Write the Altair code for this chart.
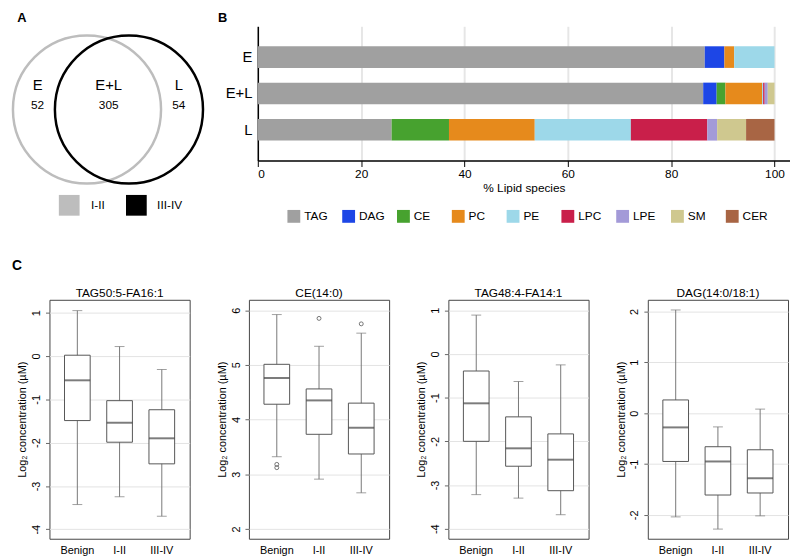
import altair as alt
import pandas as pd

FONT = "Liberation Sans"

# ---------------- Panel A : Venn diagram ----------------
venn_sets = ["I-II", "III-IV"]
venn_set_colors = ["#bdbdbd", "#000000"]
venn_regions = ["E", "E+L", "L"]
venn_counts = [52, 305, 54]
panel_letters = ["A", "B", "C"]

# ---------------- Panel B : lipid class composition ----------------
stage_groups = ["E", "E+L", "L"]
lipid_classes = ["TAG", "DAG", "CE", "PC", "PE", "LPC", "LPE", "SM", "CER"]
lipid_colors = ["#a0a0a0", "#1d46e6", "#47a22f", "#e68a1c", "#9dd8e9",
                "#c91f4a", "#a39ad8", "#cfc88f", "#a86544"]
pct_E = [86.5, 3.8, 0.0, 1.9, 7.8, 0.0, 0.0, 0.0, 0.0]
pct_EL = [86.2, 2.6, 1.7, 7.1, 0.2, 0.3, 0.6, 1.3, 0.0]
pct_L = [25.9, 0.0, 11.1, 16.6, 18.6, 14.8, 1.9, 5.6, 5.5]

# ---------------- Panel C : box plots ----------------
box_groups = ["Benign", "I-II", "III-IV"]
panel_titles = ["TAG50:5-FA16:1", "CE(14:0)", "TAG48:4-FA14:1", "DAG(14:0/18:1)"]

p1_low = [-3.43, -3.25, -3.70]
p1_q1 = [-1.49, -1.99, -2.49]
p1_med = [-0.56, -1.54, -1.90]
p1_q3 = [0.02, -1.03, -1.24]
p1_high = [1.05, 0.22, -0.31]

p2_low = [3.32, 2.91, 2.66]
p2_q1 = [4.28, 3.73, 3.37]
p2_med = [4.76, 4.35, 3.85]
p2_q3 = [5.01, 4.56, 4.30]
p2_high = [5.92, 5.34, 5.58]
p2_out_group = ["Benign", "Benign", "I-II", "III-IV"]
p2_out_value = [3.18, 3.12, 5.85, 5.75]

p3_low = [-3.22, -3.30, -3.68]
p3_q1 = [-2.00, -2.57, -3.13]
p3_med = [-1.13, -2.16, -2.42]
p3_q3 = [-0.39, -1.44, -1.83]
p3_high = [0.89, -0.63, -0.25]

p4_low = [-2.04, -2.28, -2.02]
p4_q1 = [-0.95, -1.61, -1.57]
p4_med = [-0.28, -0.95, -1.28]
p4_q3 = [0.26, -0.66, -0.72]
p4_high = [2.03, -0.27, 0.08]

y_domains = [[-4.22, 1.30], [1.82, 6.19], [-4.23, 1.24], [-2.47, 2.23]]
y_ticks = [[-4, -3, -2, -1, 0, 1], [2, 3, 4, 5, 6], [-4, -3, -2, -1, 0, 1], [-2, -1, 0, 1, 2]]

# ================= Panel A (layout in figure pixel units) =================
venn_cx = [84, 126.5]
venn_cy = [105, 105]
region_x = [34, 106, 177]
letter_x = [13.3, 216.7, 8]
letter_y = [12, 12, 264]

vx = alt.Scale(domain=[46, 246], nice=False, zero=False)
vy = alt.Scale(domain=[156.7, 20.7], nice=False, zero=False)
set_scale = alt.Scale(domain=venn_sets, range=venn_set_colors)

circ_df = pd.DataFrame({"set": venn_sets, "cx": venn_cx, "cy": venn_cy})
reg_df = pd.DataFrame({"region": venn_regions, "count": venn_counts, "lx": region_x,
                       "ny": [80] * 3, "ky": [100] * 3})
leg_df = pd.DataFrame({"set": venn_sets, "sx": [66, 134], "tx": [88, 155], "ly": [202, 202]})
let_df = pd.DataFrame({"letter": panel_letters, "x": letter_x, "y": letter_y,
                       "fs": [13, 13, 14]})

circles = alt.Chart(circ_df).mark_point(shape="circle", filled=False, size=22500,
                                        strokeWidth=2.5, opacity=1).encode(
    x=alt.X("cx:Q", scale=vx, axis=None),
    y=alt.Y("cy:Q", scale=vy, axis=None),
    stroke=alt.Stroke("set:N", scale=set_scale, legend=None),
)
names = alt.Chart(reg_df).mark_text(fontSize=15, color="black").encode(
    x=alt.X("lx:Q", scale=vx, axis=None),
    y=alt.Y("ny:Q", scale=vy, axis=None),
    text="region:N",
)
nums = alt.Chart(reg_df).mark_text(fontSize=12, color="black").encode(
    x=alt.X("lx:Q", scale=vx, axis=None),
    y=alt.Y("ky:Q", scale=vy, axis=None),
    text="count:Q",
)
squares = alt.Chart(leg_df).mark_square(size=441, opacity=1).encode(
    x=alt.X("sx:Q", scale=vx, axis=None),
    y=alt.Y("ly:Q", scale=vy, axis=None),
    fill=alt.Fill("set:N", scale=set_scale, legend=None),
)
leg_text = alt.Chart(leg_df).mark_text(align="left", fontSize=12, color="black").encode(
    x=alt.X("tx:Q", scale=vx, axis=None),
    y=alt.Y("ly:Q", scale=vy, axis=None),
    text="set:N",
)
letters = alt.Chart(let_df).mark_text(align="left", baseline="middle", fontWeight="bold",
                                      color="black").encode(
    x=alt.X("x:Q", scale=vx, axis=None),
    y=alt.Y("y:Q", scale=vy, axis=None),
    text="letter:N",
    size=alt.Size("fs:Q", scale=None, legend=None),
)
venn = alt.layer(circles, names, nums, squares, leg_text, letters).properties(
    width=200, height=136,
)

# ================= Panel B =================
rows = []
for g, vals in zip(stage_groups, [pct_E, pct_EL, pct_L]):
    for i, (c, v) in enumerate(zip(lipid_classes, vals)):
        if v > 0:
            rows.append({"group": g, "cls": c, "pct": v, "ord": i})
bar_df = pd.DataFrame(rows)

bars = alt.Chart(bar_df).mark_bar().encode(
    x=alt.X("pct:Q", stack="zero",
            scale=alt.Scale(domain=[0, 103], nice=False, zero=True),
            axis=alt.Axis(values=[0, 20, 40, 60, 80, 100], title="% Lipid species",
                          labelFontSize=12, titleFontSize=12, titleFontWeight="normal",
                          labelColor="black", titleColor="black",
                          domainColor="black", domainWidth=1.5, tickColor="black",
                          tickSize=6, labelPadding=2, titlePadding=3,
                          gridColor="#e6e6e6", gridWidth=2, grid=True)),
    y=alt.Y("group:N", sort=stage_groups,
            scale=alt.Scale(paddingInner=0.405, paddingOuter=0.55),
            axis=alt.Axis(title=None, ticks=False, labelFontSize=15, labelPadding=6,
                          labelColor="black", domainColor="black", domainWidth=1.5,
                          grid=False)),
    color=alt.Color("cls:N", sort=lipid_classes,
                    scale=alt.Scale(domain=lipid_classes, range=lipid_colors),
                    legend=alt.Legend(title=None, orient="none", legendX=30, legendY=186,
                                      direction="horizontal", columns=9,
                                      symbolType="square", symbolSize=169,
                                      symbolStrokeWidth=0, labelFontSize=12,
                                      labelColor="black", labelOffset=4,
                                      columnPadding=11.5, gridAlign="all", padding=0)),
    order=alt.Order("ord:Q"),
).properties(width=539, height=136)

top_row = alt.hconcat(venn, bars, spacing=11, bounds="flush").resolve_scale(
    color="independent", fill="independent", stroke="independent", size="independent"
).resolve_legend(color="independent")

# ================= Panel C =================
def box_panel(title, low, q1, med, q3, high, domain, ticks, out_group=None, out_value=None):
    df = pd.DataFrame({"group": box_groups, "low": low, "q1": q1, "med": med,
                       "q3": q3, "high": high})
    xenc = alt.X("group:N", sort=box_groups,
                 scale=alt.Scale(paddingInner=0.4, paddingOuter=0.36),
                 axis=alt.Axis(title=None, labelAngle=0, ticks=False, domain=False,
                               labelFontSize=11, labelPadding=6, labelColor="black",
                               grid=False))
    yscale = alt.Scale(domain=domain, nice=False, zero=False)
    yaxis = alt.Axis(title="Log\u2082 concentration (\u00b5M)", values=ticks,
                     labelExpr="datum.value + ''",
                     labelAngle=-90, labelAlign="center", labelBaseline="bottom",
                     labelFontSize=11, labelColor="black", labelPadding=4,
                     tickSize=4, tickColor="#666", domain=False,
                     titleFontSize=11, titleFontWeight="normal", titleColor="black",
                     titlePadding=3, gridColor="#e3e3e3", gridWidth=1, grid=True)

    def Y(field):
        return alt.Y(field, scale=yscale, axis=yaxis)

    base = alt.Chart(df).encode(x=xenc)
    whisk = base.mark_rule(color="#777", strokeWidth=1).encode(y=Y("low:Q"), y2="high:Q")
    cap_lo = base.mark_tick(color="#777", size=10, thickness=1).encode(y=Y("low:Q"))
    cap_hi = base.mark_tick(color="#777", size=10, thickness=1).encode(y=Y("high:Q"))
    box = base.mark_bar(size=26, fill="white", stroke="#555", strokeWidth=1).encode(
        y=Y("q1:Q"), y2="q3:Q")
    medl = base.mark_tick(size=26, thickness=2, color="#444").encode(y=Y("med:Q"))
    layers = [whisk, cap_lo, cap_hi, box, medl]
    if out_group:
        odf = pd.DataFrame({"group": out_group, "value": out_value})
        pts = alt.Chart(odf).mark_point(shape="circle", size=16, filled=False,
                                        color="#555", strokeWidth=0.8, opacity=1).encode(
            x=xenc, y=Y("value:Q"))
        layers.append(pts)
    return alt.layer(*layers).properties(
        width=142, height=242,
        title=alt.TitleParams(title, fontSize=12, fontWeight="normal", color="black",
                              offset=0),
        view=alt.ViewBackground(stroke="#444", strokeWidth=1),
    )

c1 = box_panel(panel_titles[0], p1_low, p1_q1, p1_med, p1_q3, p1_high, y_domains[0], y_ticks[0])
c2 = box_panel(panel_titles[1], p2_low, p2_q1, p2_med, p2_q3, p2_high, y_domains[1], y_ticks[1],
               p2_out_group, p2_out_value)
c3 = box_panel(panel_titles[2], p3_low, p3_q1, p3_med, p3_q3, p3_high, y_domains[2], y_ticks[2])
c4 = box_panel(panel_titles[3], p4_low, p4_q1, p4_med, p4_q3, p4_high, y_domains[3], y_ticks[3])

bottom_row = alt.hconcat(c1, c2, c3, c4, spacing=60, bounds="flush").resolve_scale(
    y="independent")

chart = alt.vconcat(top_row, bottom_row, spacing=12, padding=0).configure(
    font=FONT
).configure_view(strokeWidth=0)

chart.save("out.html", embed_options={"renderer": "svg", "actions": False})
